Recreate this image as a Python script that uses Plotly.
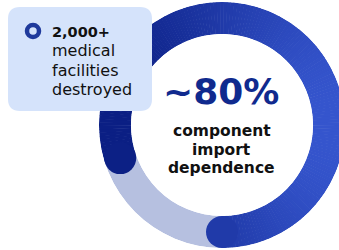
import plotly.graph_objects as go
import numpy as np

# ---- data ----
share_value = [80]               # % component import dependence
center_big = ["~80%"]
center_lines = ["component", "import", "dependence"]
box_lines = ["2,000+", "medical", "facilities", "destroyed"]

# ---- style ----
W, H = 350, 250          # slightly wider than the window: ring is clipped on the right
FONT = "DejaVu Sans"
track_color = "#b6c0e0"
dark_left = np.array([11, 31, 132])
dark_right = np.array([54, 86, 206])
start_deg = 252  # where the dark arc starts (clockwise from top)
ring_cx, ring_cy, ring_R = 222, 125, 123
hole = 0.74
thick = ring_R * (1 - hole)

def grad(theta_deg):
    t = (np.sin(np.radians(theta_deg)) + 1) / 2
    c = dark_left + (dark_right - dark_left) * t
    return "rgb(%d,%d,%d)" % tuple(c)

fig = go.Figure()

# background track
fig.add_trace(go.Barpolar(r=[1], theta=[180], width=[360], base=0,
                          marker=dict(color=track_color, line=dict(width=0)),
                          hoverinfo="skip"))

span = share_value[0] / 100 * 360
n = 180
step = span / n
thetas = [start_deg + step * (i + 0.5) for i in range(n)]
cols = [grad(t) for t in thetas]
fig.add_trace(go.Barpolar(r=[1] * n, theta=thetas, width=[step * 1.15] * n, base=0,
                          marker=dict(color=cols, line=dict(width=0)),
                          hoverinfo="skip"))

# rounded caps
ends = [start_deg, start_deg + span]
fig.add_trace(go.Scatterpolar(r=[0.5, 0.5], theta=ends, mode="markers",
                              marker=dict(size=thick, color=[grad(e) for e in ends],
                                          line=dict(width=0)),
                              hoverinfo="skip"))

def px(x): return x / W
def py(y): return 1 - y / H

fig.update_layout(
    width=W, height=H, margin=dict(l=0, r=0, t=0, b=0),
    paper_bgcolor="white", plot_bgcolor="white", showlegend=False,
    polar=dict(
        domain=dict(x=[px(ring_cx - ring_R), px(ring_cx + ring_R)],
                    y=[py(ring_cy + ring_R), py(ring_cy - ring_R)]),
        hole=hole, bgcolor="rgba(0,0,0,0)",
        radialaxis=dict(range=[0, 1], visible=False),
        angularaxis=dict(visible=False, direction="clockwise", rotation=90),
        bargap=0,
    ),
)

# info box
x0, x1, y0, y1, rr = 8, 152, 7, 111, 12
path = (f"M {px(x0+rr)},{py(y0)} L {px(x1-rr)},{py(y0)} "
        f"Q {px(x1)},{py(y0)} {px(x1)},{py(y0+rr)} L {px(x1)},{py(y1-rr)} "
        f"Q {px(x1)},{py(y1)} {px(x1-rr)},{py(y1)} L {px(x0+rr)},{py(y1)} "
        f"Q {px(x0)},{py(y1)} {px(x0)},{py(y1-rr)} L {px(x0)},{py(y0+rr)} "
        f"Q {px(x0)},{py(y0)} {px(x0+rr)},{py(y0)} Z")
fig.add_shape(type="path", xref="paper", yref="paper", layer="above",
              path=path, fillcolor="#d5e3fb", line=dict(width=0))

# icon ring
fig.add_shape(type="circle", xref="paper", yref="paper", layer="above",
              x0=px(33 - 6), x1=px(33 + 6), y0=py(31 + 6), y1=py(31 - 6),
              fillcolor="rgba(0,0,0,0)", line=dict(color="#1f3a9c", width=4.5))

# box text
ys = [32, 51, 70, 89]
for i, (t, y) in enumerate(zip(box_lines, ys)):
    fig.add_annotation(x=px(50), y=py(y), xref="paper", yref="paper",
                       xanchor="left", yanchor="middle", showarrow=False,
                       text=("<b>%s</b>" % t) if i == 0 else t,
                       font=dict(family=FONT, size=14.5 if i == 0 else 16,
                                 color="#111111"))

# center text
fig.add_annotation(x=px(221), y=py(91), xref="paper", yref="paper",
                   xanchor="center", yanchor="middle", showarrow=False,
                   text="<b>%s</b>" % center_big[0],
                   font=dict(family=FONT, size=36, color="#102a8e"))
for t, y in zip(center_lines, [131, 149.5, 168]):
    fig.add_annotation(x=px(222), y=py(y), xref="paper", yref="paper",
                       xanchor="center", yanchor="middle", showarrow=False,
                       text="<b>%s</b>" % t,
                       font=dict(family=FONT, size=15.5, color="#111111"))

fig.write_html("out.html", config={"displayModeBar": False},
               post_script="document.body.style.margin='0';"
                           "document.body.style.overflow='hidden';")
